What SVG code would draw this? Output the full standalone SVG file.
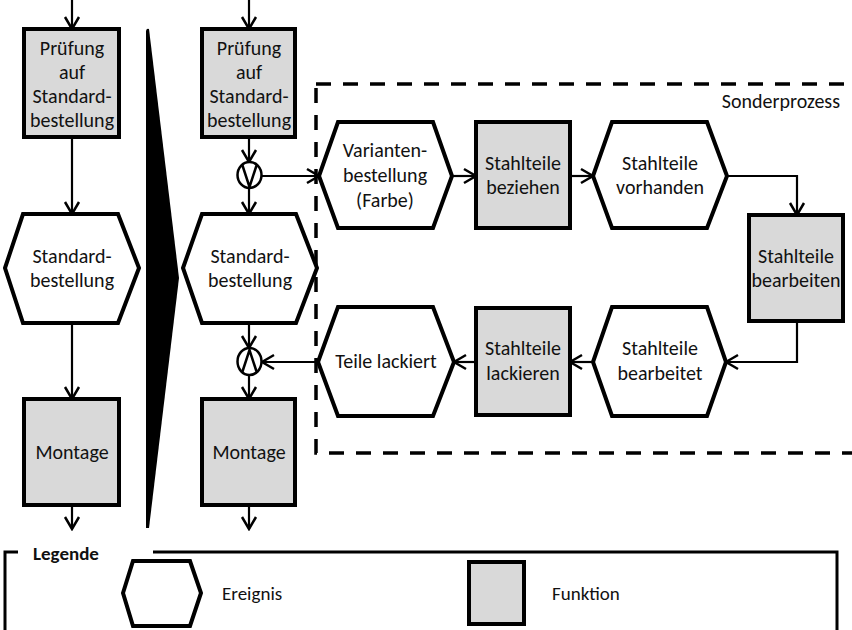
<svg xmlns="http://www.w3.org/2000/svg" width="852" height="630" viewBox="0 0 852 630">
  <style>
    text { font-family: Carlito, Calibri, Lato, "Liberation Sans", sans-serif; font-size: 20px; fill: #111; text-anchor: middle; }
    .fn { fill: #d9d9d9; stroke: #000; stroke-width: 4; }
    .ev { fill: #fff; stroke: #000; stroke-width: 4; stroke-linejoin: miter; }
    .con { fill: none; stroke: #000; stroke-width: 2.2; }
    .gate { fill: #fff; stroke: #000; stroke-width: 2.5; }
    .frame { fill: none; stroke: #000; stroke-width: 3.5; stroke-dasharray: 15 12; }
    .legend { fill: none; stroke: #000; stroke-width: 3; }
    .lg { text-anchor: start; font-size: 19px; }
  </style>
  <defs>
    <marker id="arr" viewBox="-14 -9 16 18" refX="0" refY="0" markerWidth="16" markerHeight="18" orient="auto" markerUnits="userSpaceOnUse">
      <path d="M-12,-7 L0,0 L-12,7" fill="none" stroke="#000" stroke-width="2.5"/>
    </marker>
  </defs>
  <rect width="852" height="630" fill="#fff"/>

  <!-- special process frame -->
  <g id="sonderprozess">
    <rect class="frame" x="316" y="84" width="545" height="369"/>
    <text x="840" y="108" style="text-anchor:end">Sonderprozess</text>
  </g>

  <!-- transition wedge between before / after -->
  <g id="wedge">
    <path d="M146,31 Q146.5,28 149,29 L179,278 L149,528 L146,528 Z" fill="#000"/>
  </g>

  <!-- connectors -->
  <g id="connectors">
    <path class="con" marker-end="url(#arr)" d="M72,0 V29"/>
    <path class="con" marker-end="url(#arr)" d="M72,137 V214"/>
    <path class="con" marker-end="url(#arr)" d="M72,323 V399"/>
    <path class="con" marker-end="url(#arr)" d="M72,505 V529"/>

    <path class="con" marker-end="url(#arr)" d="M249,0 V29"/>
    <path class="con" marker-end="url(#arr)" d="M249,137 V162"/>
    <path class="con" marker-end="url(#arr)" d="M249,188 V214"/>
    <path class="con" marker-end="url(#arr)" d="M262,176 H319"/>
    <path class="con" marker-end="url(#arr)" d="M452,176 H476"/>
    <path class="con" marker-end="url(#arr)" d="M570,176 H593"/>
    <path class="con" marker-end="url(#arr)" d="M727,176 H797 V215"/>
    <path class="con" marker-end="url(#arr)" d="M797,321 V362 H726"/>
    <path class="con" marker-end="url(#arr)" d="M593,362 H570"/>
    <path class="con" marker-end="url(#arr)" d="M476,362 H454"/>
    <path class="con" marker-end="url(#arr)" d="M318,362 H262"/>
    <path class="con" marker-end="url(#arr)" d="M249,323 V348"/>
    <path class="con" marker-end="url(#arr)" d="M249,375 V399"/>
    <path class="con" marker-end="url(#arr)" d="M249,505 V529"/>
  </g>

  <!-- left process (standard) -->
  <g id="pruefung-links">
    <rect class="fn" x="24" y="29" width="95" height="108"/>
    <text x="72" y="55">Prüfung</text>
    <text x="72" y="79">auf</text>
    <text x="72" y="103">Standard-</text>
    <text x="72" y="127">bestellung</text>
  </g>
  <g id="standard-links">
    <path class="ev" d="M5,268 L23,214 H118 L139,268 L118,323 H23 Z"/>
    <text x="72" y="263">Standard-</text>
    <text x="72" y="287">bestellung</text>
  </g>
  <g id="montage-links">
    <rect class="fn" x="24" y="399" width="95" height="106"/>
    <text x="72" y="459">Montage</text>
  </g>

  <!-- right process (with variants) -->
  <g id="pruefung-rechts">
    <rect class="fn" x="202" y="29" width="93" height="108"/>
    <text x="249" y="55">Prüfung</text>
    <text x="249" y="79">auf</text>
    <text x="249" y="103">Standard-</text>
    <text x="249" y="127">bestellung</text>
  </g>
  <g id="oder">
    <ellipse class="gate" cx="249.5" cy="175" rx="12" ry="13"/>
    <path d="M242,164 L249.5,187 L257,164" fill="none" stroke="#000" stroke-width="2.5"/>
  </g>
  <g id="standard-rechts">
    <path class="ev" d="M183,268 L202,214 H296 L317,268 L296,323 H202 Z"/>
    <text x="250" y="263">Standard-</text>
    <text x="250" y="287">bestellung</text>
  </g>
  <g id="und">
    <ellipse class="gate" cx="249.5" cy="361.5" rx="12" ry="13.5"/>
    <path d="M242,373 L249.5,350 L257,373" fill="none" stroke="#000" stroke-width="2.5"/>
  </g>
  <g id="montage-rechts">
    <rect class="fn" x="202" y="399" width="93" height="106"/>
    <text x="249" y="459">Montage</text>
  </g>

  <!-- special process nodes -->
  <g id="variantenbestellung">
    <path class="ev" d="M319,176 L338,122 H433 L452,176 L433,228 H338 Z"/>
    <text x="385" y="157">Varianten-</text>
    <text x="385" y="182">bestellung</text>
    <text x="385" y="207">(Farbe)</text>
  </g>
  <g id="stahlteile-beziehen">
    <rect class="fn" x="476" y="122" width="94" height="106"/>
    <text x="523" y="170">Stahlteile</text>
    <text x="523" y="194">beziehen</text>
  </g>
  <g id="stahlteile-vorhanden">
    <path class="ev" d="M593,176 L612,122 H707 L727,176 L707,228 H612 Z"/>
    <text x="660" y="170">Stahlteile</text>
    <text x="660" y="194">vorhanden</text>
  </g>
  <g id="stahlteile-bearbeiten">
    <rect class="fn" x="749" y="215" width="94" height="106"/>
    <text x="796" y="263">Stahlteile</text>
    <text x="796" y="287">bearbeiten</text>
  </g>
  <g id="stahlteile-bearbeitet">
    <path class="ev" d="M593,362 L612,307 H707 L726,362 L707,416 H612 Z"/>
    <text x="660" y="355">Stahlteile</text>
    <text x="660" y="380">bearbeitet</text>
  </g>
  <g id="stahlteile-lackieren">
    <rect class="fn" x="476" y="308" width="94" height="107"/>
    <text x="523" y="355">Stahlteile</text>
    <text x="523" y="380">lackieren</text>
  </g>
  <g id="teile-lackiert">
    <path class="ev" d="M318,362 L338,307 H433 L454,362 L433,416 H338 Z"/>
    <text x="386" y="368">Teile lackiert</text>
  </g>

  <!-- legend -->
  <g id="legende">
    <path class="legend" d="M18,552 H5 V632 M153,552 H837 V632"/>
    <text x="33" y="560" class="lg" style="font-weight:bold">Legende</text>
    <path class="ev" d="M123,593 L133,561 H190 L201,593 L190,626 H133 Z"/>
    <text x="222" y="600" class="lg">Ereignis</text>
    <rect class="fn" x="469" y="562" width="55" height="62"/>
    <text x="552" y="600" class="lg">Funktion</text>
  </g>
</svg>
